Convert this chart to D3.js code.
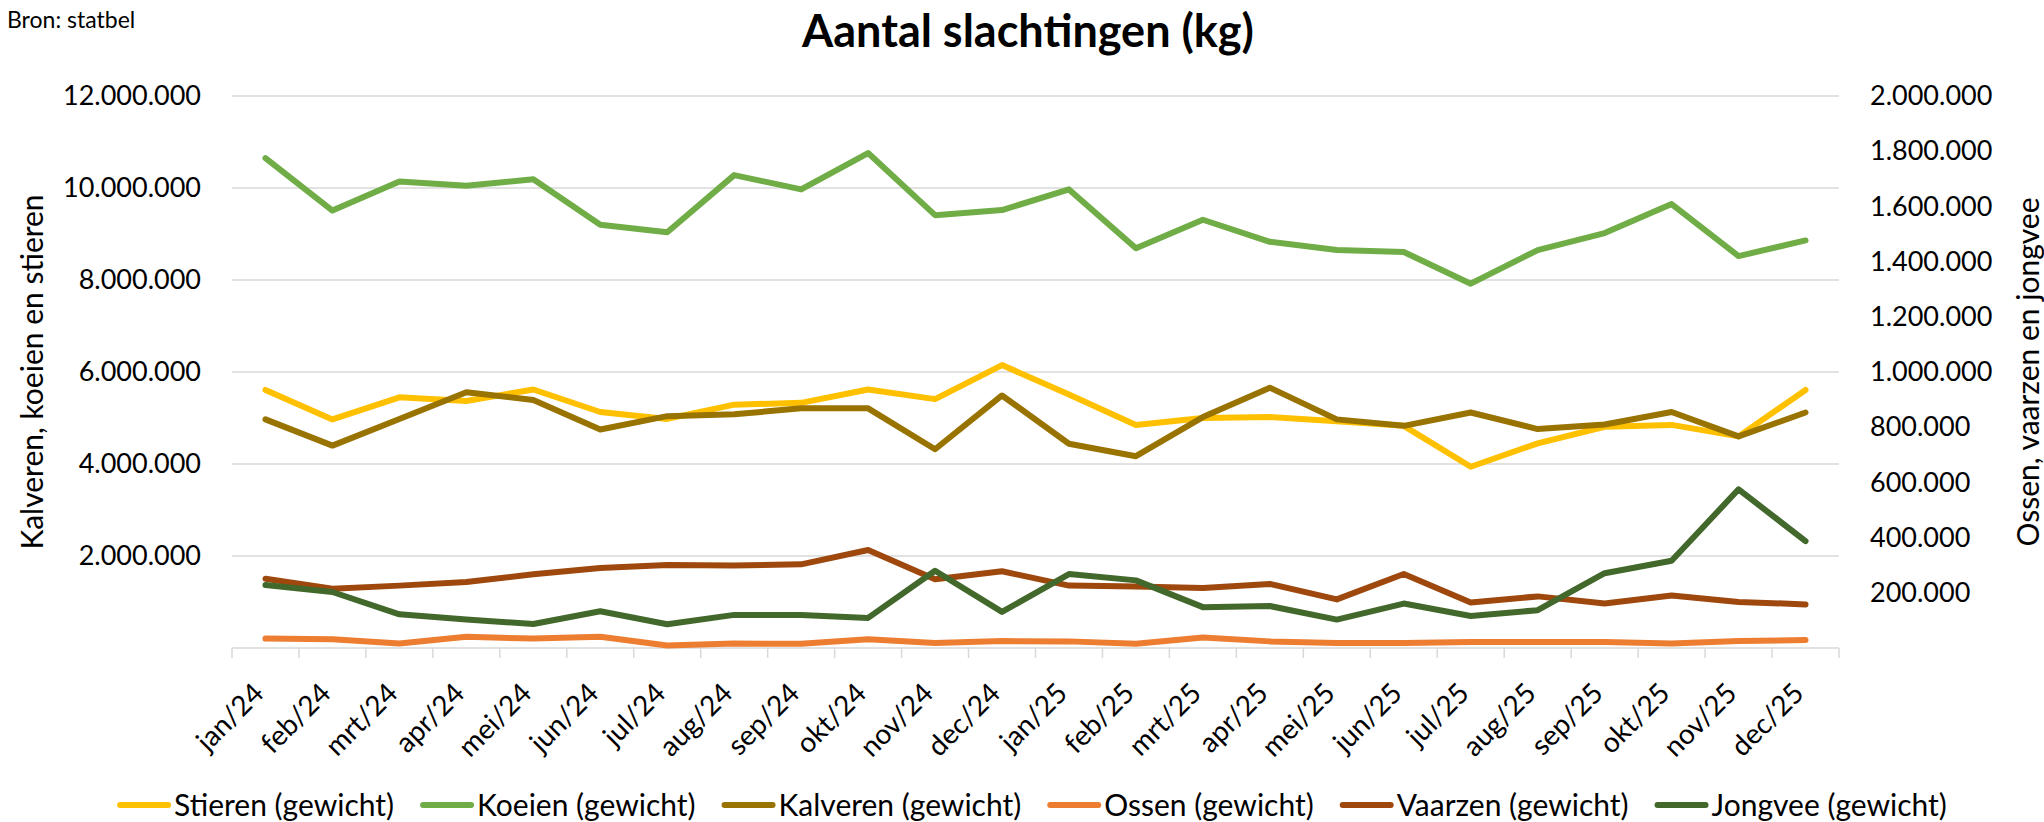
<!DOCTYPE html>
<html>
<head>
<meta charset="utf-8">
<script src="https://cdn.jsdelivr.net/npm/d3@7"></script>
<style>
  body { margin: 0; background: #fff; }
  svg { display: block; font-family: Lato, "Open Sans", sans-serif; }
</style>
</head>
<body>
<div id="chart"></div>
<script>
var months = ["jan/24","feb/24","mrt/24","apr/24","mei/24","jun/24","jul/24","aug/24","sep/24","okt/24","nov/24","dec/24",
              "jan/25","feb/25","mrt/25","apr/25","mei/25","jun/25","jul/25","aug/25","sep/25","okt/25","nov/25","dec/25"];

// linker as
var stieren  = [5610000, 4970000, 5450000, 5370000, 5620000, 5130000, 4980000, 5290000, 5330000, 5620000, 5410000, 6150000,
                5510000, 4850000, 5000000, 5020000, 4930000, 4830000, 3940000, 4450000, 4810000, 4850000, 4600000, 5610000];
var koeien   = [10650000, 9510000, 10140000, 10050000, 10190000, 9200000, 9040000, 10280000, 9970000, 10760000, 9410000, 9520000,
                9970000, 8690000, 9310000, 8830000, 8650000, 8610000, 7920000, 8650000, 9020000, 9650000, 8520000, 8860000];
var kalveren = [4970000, 4400000, 4980000, 5560000, 5390000, 4750000, 5040000, 5080000, 5210000, 5210000, 4320000, 5490000,
                4440000, 4170000, 5020000, 5660000, 4970000, 4830000, 5120000, 4760000, 4860000, 5130000, 4600000, 5120000];
// rechter as
var ossen    = [34000, 32000, 16000, 41000, 34000, 41000, 9000, 16000, 15000, 32000, 18000, 25000,
                24000, 15000, 38000, 24000, 18000, 18000, 22000, 22000, 22000, 16000, 25000, 29000];
var vaarzen  = [251000, 215000, 226000, 239000, 267000, 290000, 301000, 299000, 303000, 355000, 249000, 278000,
                226000, 223000, 217000, 232000, 176000, 268000, 165000, 187000, 161000, 190000, 167000, 158000];
var jongvee  = [228000, 203000, 122000, 103000, 87000, 133000, 86000, 120000, 120000, 109000, 280000, 131000,
                268000, 245000, 148000, 152000, 103000, 161000, 116000, 137000, 271000, 316000, 575000, 387000];

var leftTicks  = [0, 2000000, 4000000, 6000000, 8000000, 10000000, 12000000];
var rightTicks = [0, 200000, 400000, 600000, 800000, 1000000, 1200000, 1400000, 1600000, 1800000, 2000000];

var series = [
    { name: "Stieren (gewicht)",  values: stieren,  color: "#FFC000", axis: "left" },
    { name: "Koeien (gewicht)",   values: koeien,   color: "#70AD47", axis: "left" },
    { name: "Kalveren (gewicht)", values: kalveren, color: "#997300", axis: "left" },
    { name: "Ossen (gewicht)",    values: ossen,    color: "#ED7D31", axis: "right" },
    { name: "Vaarzen (gewicht)",  values: vaarzen,  color: "#9E480E", axis: "right" },
    { name: "Jongvee (gewicht)",  values: jongvee,  color: "#43682B", axis: "right" }
];

var width = 2044, height = 822;
var plotLeft = 232, plotRight = 1839, plotTop = 96, plotBottom = 648;
var font = "Lato, 'Open Sans', sans-serif";

var nl = d3.formatLocale({ decimal: ",", thousands: ".", grouping: [3], currency: ["€", ""] });
var fmt = nl.format(",d");
var fmtTick = function (d) { return d === 0 ? "" : fmt(d); };

var svg = d3.select("#chart").append("svg")
    .attr("width", width)
    .attr("height", height);

var x = d3.scaleBand().domain(months).range([plotLeft, plotRight]);
var yL = d3.scaleLinear().domain([0, 12000000]).range([plotBottom, plotTop]);
var yR = d3.scaleLinear().domain([0, 2000000]).range([plotBottom, plotTop]);

/* ------- GRID -------*/
svg.append("g").attr("class", "grid")
    .selectAll("line")
    .data(leftTicks)
    .enter().append("line")
    .attr("x1", plotLeft).attr("x2", plotRight)
    .attr("y1", function (d) { return yL(d); })
    .attr("y2", function (d) { return yL(d); })
    .attr("stroke", "#D9D9D9")
    .attr("stroke-width", 1.5);

/* ------- AXES -------*/
var gl = svg.append("g")
    .attr("transform", "translate(" + plotLeft + ",0)")
    .call(d3.axisLeft(yL).tickValues(leftTicks).tickSize(0).tickPadding(31).tickFormat(fmtTick));
gl.select(".domain").remove();

var gr = svg.append("g")
    .attr("transform", "translate(" + plotRight + ",0)")
    .call(d3.axisRight(yR).tickValues(rightTicks).tickSize(0).tickPadding(31).tickFormat(fmtTick));
gr.select(".domain").remove();

// tick marks between categories
var edges = months.map(function (m) { return x(m); }).concat([plotRight]);
svg.append("g").selectAll("line")
    .data(edges)
    .enter().append("line")
    .attr("x1", function (d) { return d; })
    .attr("x2", function (d) { return d; })
    .attr("y1", plotBottom).attr("y2", plotBottom + 10)
    .attr("stroke", "#D9D9D9")
    .attr("stroke-width", 1.5);

var gx = svg.append("g")
    .attr("transform", "translate(0," + plotBottom + ")")
    .call(d3.axisBottom(x).tickSize(0).tickPadding(0));
gx.select(".domain").remove();
gx.selectAll("text")
    .attr("font-size", 28)
    .attr("text-anchor", "end")
    .attr("y", 0)
    .attr("dy", 0)
    .attr("transform", "translate(0,47) rotate(-45)");

[gl, gr, gx].forEach(function (g) {
    g.attr("font-family", font);
    g.selectAll("text").attr("fill", "#000");
});
gl.selectAll("text").attr("font-size", 27);
gr.selectAll("text").attr("font-size", 27);

/* ------- LINES -------*/
series.forEach(function (s) {
    var yy = s.axis === "left" ? yL : yR;
    var line = d3.line()
        .x(function (d, i) { return x(months[i]) + x.bandwidth() / 2; })
        .y(function (d) { return yy(d); });
    svg.append("path")
        .datum(s.values)
        .attr("d", line)
        .attr("fill", "none")
        .attr("stroke", s.color)
        .attr("stroke-width", 6)
        .attr("stroke-linejoin", "round")
        .attr("stroke-linecap", "round");
});

/* ------- TEXTS -------*/
svg.append("text")
    .attr("x", 7).attr("y", 28)
    .attr("font-size", 23)
    .text("Bron: statbel");

svg.append("text")
    .attr("x", 1028).attr("y", 47)
    .attr("text-anchor", "middle")
    .attr("font-size", 45)
    .attr("font-weight", "bold")
    .text("Aantal slachtingen (kg)");

svg.append("text")
    .attr("transform", "translate(43," + (plotTop + plotBottom) / 2 + ") rotate(-90)")
    .attr("text-anchor", "middle")
    .attr("font-size", 30)
    .text("Kalveren, koeien en stieren");

svg.append("text")
    .attr("transform", "translate(2039," + (plotTop + plotBottom) / 2 + ") rotate(-90)")
    .attr("text-anchor", "middle")
    .attr("font-size", 30)
    .text("Ossen, vaarzen en jongvee");

/* ------- LEGEND -------*/
var legend = svg.append("g");
var lx = 0;
series.forEach(function (s) {
    var item = legend.append("g").attr("transform", "translate(" + lx + ",0)");
    item.append("line")
        .attr("x1", 3).attr("x2", 51)
        .attr("y1", 0).attr("y2", 0)
        .attr("stroke", s.color)
        .attr("stroke-width", 6)
        .attr("stroke-linecap", "round");
    var t = item.append("text")
        .attr("x", 57).attr("y", 0)
        .attr("dy", "0.35em")
        .attr("font-size", 30)
        .text(s.name);
    lx += 57 + t.node().getComputedTextLength() + 26;
});
lx -= 26;
legend.attr("transform", "translate(" + (1032 - lx / 2) + ",805)");
</script>
</body>
</html>
